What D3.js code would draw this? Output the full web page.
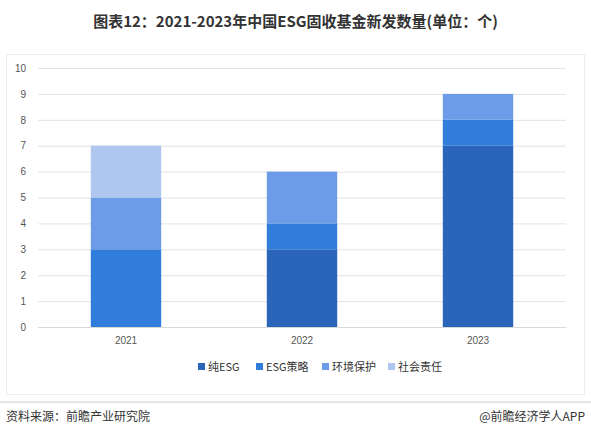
<!DOCTYPE html>
<html><head><meta charset="utf-8">
<script src="https://cdn.jsdelivr.net/npm/d3@7"></script>
<style>body{margin:0;background:#fff;font-family:"Noto Sans CJK SC","Noto Sans",sans-serif}</style>
</head><body><div id="chart"></div>
<script>
const years = ["2021", "2022", "2023"];
const seriesNames = ["纯ESG", "ESG策略", "环境保护", "社会责任"];
const pureEsg = [0, 3, 7];
const esgStrategy = [3, 1, 1];
const environment = [2, 2, 1];
const social = [2, 0, 0];
const yTicks = [0,1,2,3,4,5,6,7,8,9,10];
const colors = ["#2b65b9", "#317ddb", "#6c9ce8", "#aec6f0"];

const width = 591, height = 438;
const margin = {top: 68, right: 25, bottom: 111, left: 38};
const svg = d3.select("#chart").append("svg").attr("width", width).attr("height", height);

svg.append("text").attr("x", width/2).attr("y", 27).attr("text-anchor", "middle")
    .attr("font-size", 15).attr("font-weight", "bold").attr("fill", "#333")
    .text("图表12：2021-2023年中国ESG固收基金新发数量(单位：个)");

// light frame around the chart area
svg.append("rect").attr("x", 6.5).attr("y", 54.5).attr("width", 578).attr("height", 340)
    .attr("fill", "none").attr("stroke", "#ececec");

const rows = years.map((y, i) => ({year: y, "纯ESG": pureEsg[i], "ESG策略": esgStrategy[i], "环境保护": environment[i], "社会责任": social[i]}));
const stacked = d3.stack().keys(seriesNames)(rows);

const x = d3.scaleBand().domain(years).range([margin.left, width - margin.right]).paddingInner(0.6).paddingOuter(0.3);
const y = d3.scaleLinear().domain([0, 10]).range([height - margin.bottom, margin.top]);

svg.append("g").attr("transform", `translate(${margin.left},0)`)
    .call(d3.axisLeft(y).tickValues(yTicks).tickSize(0).tickPadding(12))
    .call(g => g.select(".domain").remove())
    .call(g => g.selectAll(".tick line").attr("x2", width - margin.right - margin.left).attr("stroke", "#e3e3e3"))
    .call(g => g.selectAll("text").attr("font-size", 10).attr("fill", "#555"));

svg.append("g").selectAll("g").data(stacked).join("g")
    .attr("fill", (d, i) => colors[i])
  .selectAll("rect").data(d => d).join("rect")
    .attr("x", d => x(d.data.year))
    .attr("width", x.bandwidth())
    .attr("y", d => y(d[1]))
    .attr("height", d => y(d[0]) - y(d[1]));

svg.append("g").attr("transform", `translate(0,${height - margin.bottom})`)
    .call(d3.axisBottom(x).tickSize(0).tickPadding(10))
    .call(g => g.select(".domain").attr("stroke", "#d9d9d9"))
    .call(g => g.selectAll("text").attr("font-size", 10).attr("fill", "#555"));

const legendW = [58, 66, 66, 60];
let lx = 198;
const legend = svg.append("g");
seriesNames.forEach((n, i) => {
  const g = legend.append("g").attr("transform", `translate(${lx},367)`);
  g.append("rect").attr("y", -4).attr("width", 7).attr("height", 7).attr("fill", colors[i]);
  g.append("text").attr("x", 10).attr("y", 4).attr("font-size", 11).attr("fill", "#333").text(n);
  lx += legendW[i];
});

svg.append("line").attr("x1", 0).attr("x2", width).attr("y1", 402).attr("y2", 402).attr("stroke", "#ccc");
svg.append("text").attr("x", 6).attr("y", 421).attr("font-size", 12).attr("fill", "#333").text("资料来源：前瞻产业研究院");
svg.append("text").attr("x", width - 6).attr("y", 421).attr("text-anchor", "end").attr("font-size", 12).attr("fill", "#333").text("@前瞻经济学人APP");
</script></body></html>
